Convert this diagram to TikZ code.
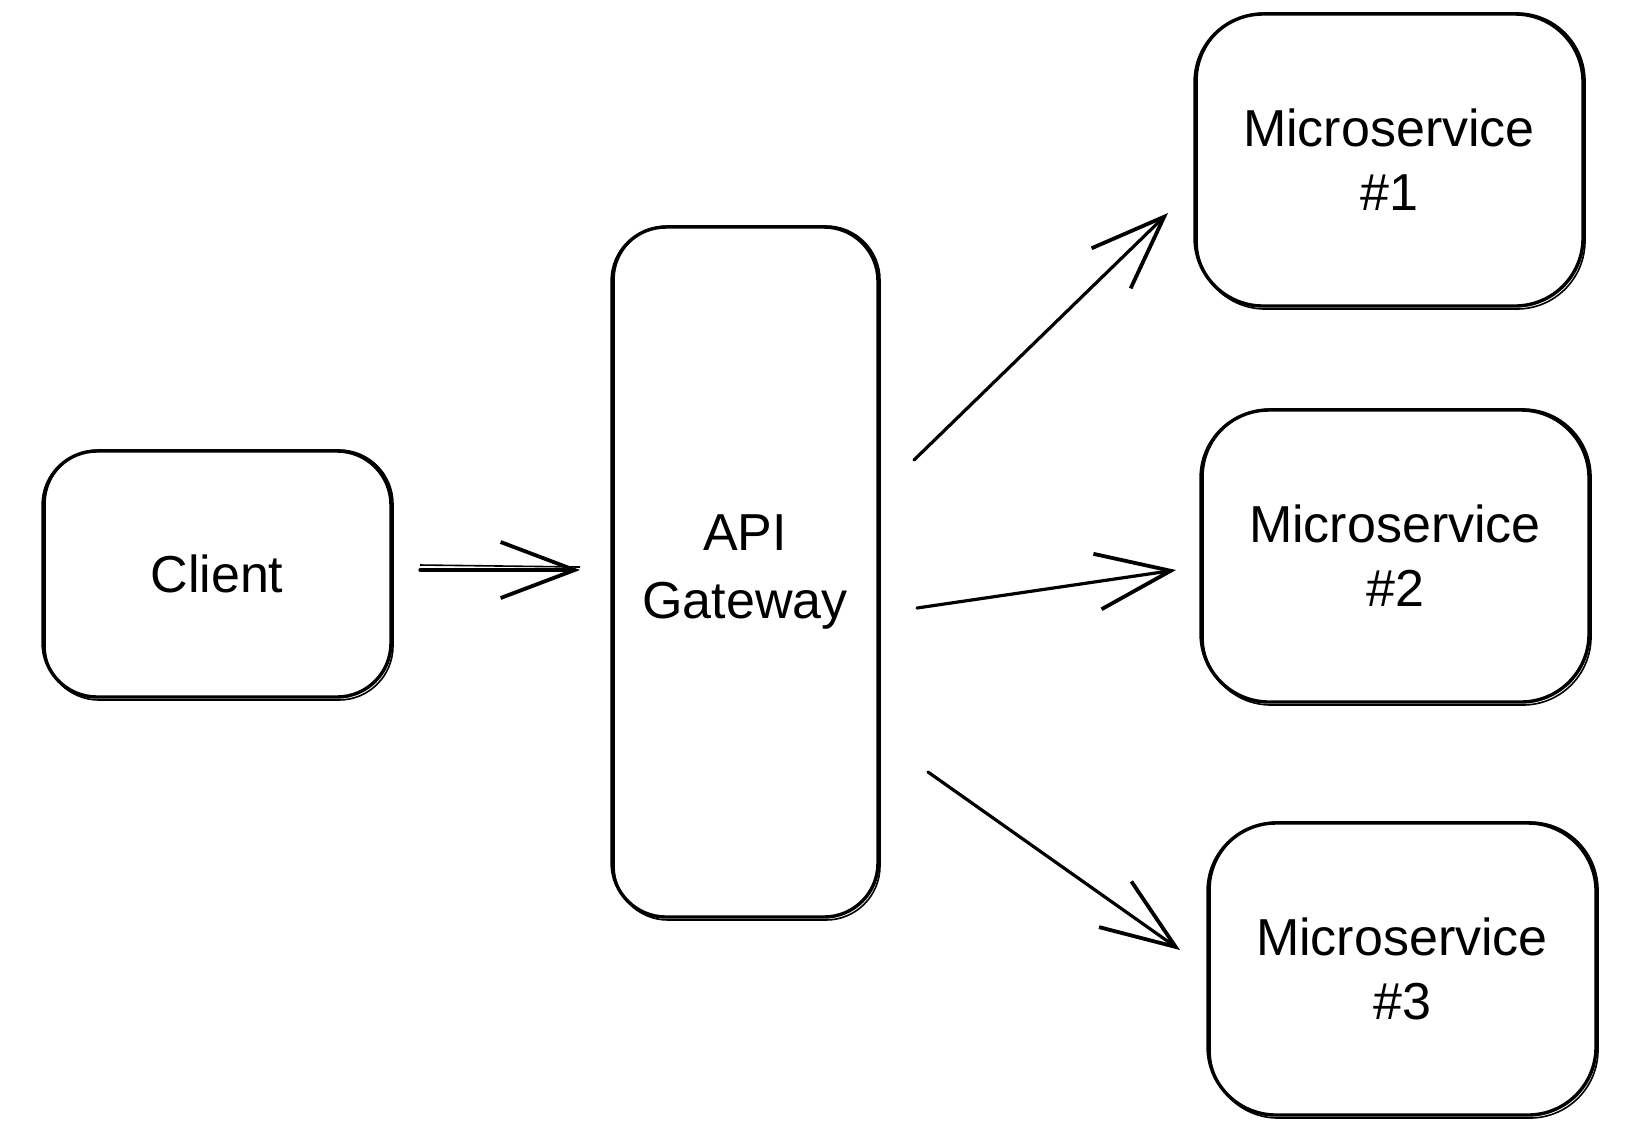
\documentclass[tikz,border=0pt]{standalone}
\usepackage{fontspec}
\setmainfont{Liberation Sans}
\usetikzlibrary{arrows.meta}

\tikzset{
  box/.style={draw, rectangle, line width=1.7pt, outer sep=0pt, inner sep=0pt,
    align=center, font=\fontsize{26}{32}\selectfont},
  msbox/.style={box, rounded corners=34pt, minimum width=194pt, minimum height=146pt},
  smallround/.style={box, rounded corners=27pt},
  retrace/.style={line width=0.8pt},
  arr/.style={line width=1.6pt, line cap=round, line join=round,
    -{Straight Barb[length=37pt,width=28pt,line width=1.9pt]}},
}

\begin{document}
\begin{tikzpicture}[x=0.5pt, y=-0.5pt]
  \useasboundingbox (0,0) rectangle (1638,1132);

  % boxes
  \node[smallround, minimum width=174pt, minimum height=123pt] (client) at (217,574) {Client};
  \node[smallround, minimum width=133pt, minimum height=345pt,
        font=\fontsize{26}{34}\selectfont] (api) at (745,572) {API\\Gateway};
  \node[msbox] (ms1) at (1389,160) {Microservice\\\#1};
  \node[msbox] (ms2) at (1395,556) {Microservice\\\#2};
  \node[msbox] (ms3) at (1402,969) {Microservice\\\#3};

  % second, slightly shifted stroke of every outline
  \foreach \n/\r in {client/27pt, api/27pt, ms1/34pt, ms2/34pt, ms3/34pt} {
    \draw[retrace, rounded corners=\r]
      ([shift={(2,-1)}]\n.north west) rectangle ([shift={(2,3)}]\n.south east);
  }

  % connector end points
  \coordinate (c0) at ([shift={(29,-4)}]client.east);
  \coordinate (g0) at ([shift={(-32,-2)}]api.west);
  \coordinate (g1) at ([shift={(36,-112)}]api.east);
  \coordinate (m1) at ([shift={(-27,53)}]ms1.west);
  \coordinate (g2) at ([shift={(39,36)}]api.east);
  \coordinate (m2) at ([shift={(-25,14)}]ms2.west);
  \coordinate (g3) at ([shift={(50,200)}]api.east);
  \coordinate (m3) at ([shift={(-28,-19)}]ms3.west);

  % connectors
  \draw[arr] (c0) -- (g0);
  \draw[line width=0.8pt] ([shift={(0,-5)}]c0) -- ([shift={(0,-3)}]g0);
  \draw[arr] (g1) -- (m1);
  \draw[arr] (g2) -- (m2);
  \draw[arr] (g3) -- (m3);
\end{tikzpicture}
\end{document}
